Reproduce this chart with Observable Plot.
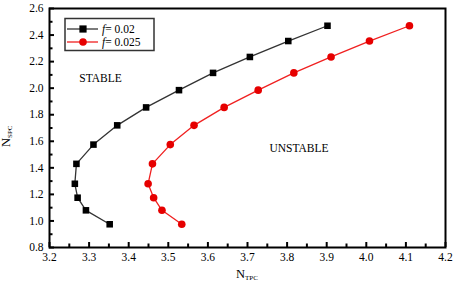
<!DOCTYPE html>
<html>
<head>
<meta charset="utf-8">
<script src="https://cdn.jsdelivr.net/npm/d3@7"></script>
<script src="https://cdn.jsdelivr.net/npm/@observablehq/plot@0.6"></script>
<style>
  html, body { margin: 0; padding: 0; background: #fff; }
  #chart { width: 456px; height: 287px; }
  #chart svg text { font-family: 'Liberation Serif', 'Times New Roman', serif; }
</style>
</head>
<body>
<div id="chart"></div>
<script>
// N_SPC values (shared by both series)
const nSpc = [0.975, 1.08, 1.175, 1.28, 1.43, 1.575, 1.72, 1.855, 1.985, 2.115, 2.235, 2.355, 2.47];
// N_TPC for f = 0.02
const nTpcF002 = [3.352, 3.292, 3.271, 3.264, 3.268, 3.311, 3.371, 3.444, 3.527, 3.613, 3.706, 3.803, 3.902];
// N_TPC for f = 0.025
const nTpcF0025 = [3.534, 3.484, 3.463, 3.449, 3.460, 3.505, 3.565, 3.641, 3.727, 3.817, 3.911, 4.008, 4.109];

const seriesNames = ["f = 0.02", "f = 0.025"];
const xMajor = [3.2, 3.3, 3.4, 3.5, 3.6, 3.7, 3.8, 3.9, 4.0, 4.1, 4.2];
const xMinor = [3.25, 3.35, 3.45, 3.55, 3.65, 3.75, 3.85, 3.95, 4.05, 4.15];
const yMajor = [0.8, 1.0, 1.2, 1.4, 1.6, 1.8, 2.0, 2.2, 2.4, 2.6];
const yMinor = [0.9, 1.1, 1.3, 1.5, 1.7, 1.9, 2.1, 2.3, 2.5];
const regionLabels = [
  {text: "STABLE", x: 3.329, y: 2.075},
  {text: "UNSTABLE", x: 3.83, y: 1.548}
];

const s1 = nSpc.map((y, i) => ({x: nTpcF002[i], y}));
const s2 = nSpc.map((y, i) => ({x: nTpcF0025[i], y}));

const FONT = "Liberation Serif, Times New Roman, serif";
const RED = "#e60000";
const RED_LINE = "#f02020";
const BLACK_LINE = "#333";

const W = 456, H = 287, ML = 49, MR = 11, MT = 8, MB = 40;
const innerW = W - ML - MR, innerH = H - MT - MB;

const fmt = d3.format(".1f");

const plot = Plot.plot({
  width: W,
  height: H,
  marginLeft: ML,
  marginRight: MR,
  marginTop: MT,
  marginBottom: MB,
  style: {fontFamily: FONT, fontSize: "11.5px", background: "#fff", color: "#000"},
  x: {domain: [3.2, 4.2]},
  y: {domain: [0.8, 2.6]},
  marks: [
    // inward ticks (bottom and left)
    Plot.ruleX(xMajor, {x: d => d, insetTop: innerH - 5, stroke: "#000", strokeWidth: 2}),
    Plot.ruleX(xMinor, {x: d => d, insetTop: innerH - 3.5, stroke: "#000", strokeWidth: 2}),
    Plot.ruleY(yMajor, {y: d => d, insetRight: innerW - 5, stroke: "#000", strokeWidth: 2}),
    Plot.ruleY(yMinor, {y: d => d, insetRight: innerW - 3.5, stroke: "#000", strokeWidth: 2}),
    Plot.axisX({ticks: xMajor, tickSize: 0, tickPadding: 5, tickFormat: fmt, fill: "#000", fontSize: 11.5, fontFamily: FONT, label: null}),
    Plot.axisY({ticks: yMajor, tickSize: 0, tickPadding: 6, tickFormat: fmt, fill: "#000", fontSize: 11.5, fontFamily: FONT, label: null}),
    Plot.line(s1, {x: "x", y: "y", stroke: BLACK_LINE, strokeWidth: 1.3}),
    Plot.dot(s1, {x: "x", y: "y", symbol: "square", fill: "#000", r: 3.7}),
    Plot.line(s2, {x: "x", y: "y", stroke: RED_LINE, strokeWidth: 1.3}),
    Plot.dot(s2, {x: "x", y: "y", symbol: "circle", fill: RED, r: 3.8}),
    Plot.text(regionLabels, {x: "x", y: "y", text: "text", fontSize: 11.5, fontFamily: FONT, fill: "#000"}),
    Plot.frame({stroke: "#000", strokeWidth: 2})
  ]
});

const svg = d3.select(plot);

// Axis titles with subscripts
const xt = svg.append("text").attr("x", 236).attr("y", 278).attr("text-anchor", "start")
  .attr("font-family", FONT).attr("font-size", 12.5).attr("fill", "#000");
xt.append("tspan").text("N");
xt.append("tspan").attr("font-size", 7).attr("dy", 2).text("TPC");

const yt = svg.append("text").attr("transform", "translate(10,147) rotate(-90)").attr("text-anchor", "start")
  .attr("font-family", FONT).attr("font-size", 12.5).attr("fill", "#000");
yt.append("tspan").text("N");
yt.append("tspan").attr("font-size", 7).attr("dy", 2).text("SPC");

// Legend
const lg = svg.append("g").attr("font-family", FONT).attr("font-size", 11.5).attr("text-anchor", "start");
lg.append("rect").attr("x", 65).attr("y", 18.5).attr("width", 89).attr("height", 32)
  .attr("fill", "#fff").attr("stroke", "#333").attr("stroke-width", 1.5);
const entries = [
  {name: seriesNames[0], color: BLACK_LINE, mark: "#000", sym: "square", y: 29},
  {name: seriesNames[1], color: RED_LINE, mark: RED, sym: "circle", y: 42}
];
for (const e of entries) {
  lg.append("line").attr("x1", 67).attr("x2", 98).attr("y1", e.y).attr("y2", e.y)
    .attr("stroke", e.color).attr("stroke-width", 1.3);
  if (e.sym === "square") {
    lg.append("rect").attr("x", 83 - 3.6).attr("y", e.y - 3.6).attr("width", 7.2).attr("height", 7.2).attr("fill", e.mark);
  } else {
    lg.append("circle").attr("cx", 83).attr("cy", e.y).attr("r", 3.8).attr("fill", e.mark);
  }
  const t = lg.append("text").attr("x", 102).attr("y", e.y).attr("dy", "0.35em").attr("fill", "#000");
  const parts = e.name.split(" ");
  t.append("tspan").attr("font-style", "italic").text(parts[0]);
  t.append("tspan").text("= " + parts[2]);
}

document.getElementById("chart").appendChild(plot);
</script>
</body>
</html>
